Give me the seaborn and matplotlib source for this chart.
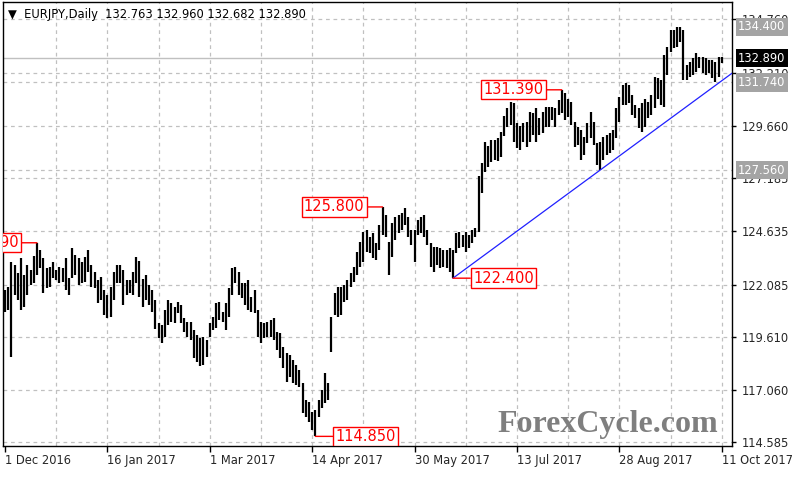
import numpy as np
import pandas as pd
import matplotlib
matplotlib.use("Agg")
import matplotlib.pyplot as plt
import matplotlib.transforms as mtransforms
import seaborn as sns

# --- data (one bar per business day) ---
dates = pd.bdate_range("2016-12-01", "2017-10-11")

highs = [
    121.84, 122.00, 123.19, 123.03, 122.63, 123.35, 122.55, 123.03, 122.79, 123.48,
    124.09, 123.75, 123.35, 122.87, 122.95, 123.19, 122.79, 122.95, 122.87, 123.35,
    122.40, 123.83, 123.51, 123.35, 123.19, 123.43, 123.75, 123.03, 122.71, 122.32,
    122.47, 121.84, 121.60, 122.00, 122.71, 123.03, 123.03, 122.79, 122.31, 122.31,
    122.69, 123.41, 123.22, 122.36, 122.55, 122.07, 121.84, 121.36, 120.26, 120.17,
    120.88, 121.36, 121.22, 121.03, 121.26, 121.12, 120.50, 120.31, 120.31, 119.93,
    119.69, 119.55, 119.59, 119.45, 120.26, 120.55, 121.22, 121.26, 120.79, 121.22,
    121.93, 122.89, 122.93, 122.69, 122.17, 122.17, 122.31, 121.50, 121.84, 120.88,
    120.31, 120.26, 120.31, 120.40, 120.50, 119.83, 119.78, 119.12, 118.83, 118.73,
    118.49, 118.26, 118.02, 117.40, 116.59, 116.49, 116.01, 116.11, 116.59, 117.06,
    117.88, 117.40, 120.55, 121.69, 121.98, 121.98, 122.07, 122.31, 122.65, 122.93,
    123.65, 124.12, 124.60, 124.70, 124.36, 124.55, 124.08, 124.94, 125.80, 125.41,
    124.12, 125.03, 125.32, 125.41, 125.51, 125.75, 125.32, 124.70, 124.70, 125.17,
    125.32, 125.41, 124.70, 124.08, 123.89, 123.89, 123.84, 123.74, 123.74, 123.84,
    123.74, 124.55, 124.60, 124.46, 124.60, 124.46, 124.70, 124.79, 127.30, 127.89,
    128.90, 128.70, 128.99, 128.99, 129.09, 129.37, 130.14, 130.52, 130.80, 130.76,
    129.80, 129.66, 129.80, 129.85, 130.33, 130.28, 130.52, 130.04, 130.33, 130.57,
    130.57, 130.57, 130.52, 130.90, 131.39, 131.23, 130.95, 130.80, 129.85, 129.61,
    129.47, 129.14, 129.80, 130.33, 129.85, 128.85, 128.90, 129.14, 129.23, 129.33,
    129.47, 130.52, 131.04, 131.63, 131.71, 131.63, 131.14, 130.66, 130.52, 130.76,
    130.95, 130.80, 131.14, 132.00, 131.95, 131.85, 133.05, 133.43, 134.24, 134.24,
    134.40, 134.38, 134.24, 132.57, 132.71, 132.90, 133.14, 132.95, 132.95, 132.90,
    132.81, 132.81, 132.71, 132.95, 132.96,
]

lows = [
    120.80, 120.88, 118.66, 121.60, 121.36, 120.88, 121.04, 121.60, 122.08, 122.16,
    122.55, 122.87, 121.68, 121.92, 122.00, 122.40, 122.32, 122.16, 122.24, 121.84,
    121.60, 122.40, 122.55, 122.08, 122.16, 122.24, 122.71, 122.00, 121.92, 121.20,
    121.36, 120.65, 120.49, 120.57, 121.36, 122.16, 122.16, 121.12, 121.60, 121.69,
    121.60, 122.17, 121.50, 121.03, 121.36, 121.12, 120.79, 119.97, 119.55, 119.31,
    119.59, 120.17, 120.31, 120.26, 120.74, 120.26, 119.83, 119.59, 119.45, 118.59,
    118.40, 118.21, 118.26, 118.64, 119.59, 119.93, 120.02, 120.40, 120.31, 119.93,
    120.55, 121.60, 122.17, 121.60, 121.45, 121.12, 120.88, 120.79, 120.74, 119.59,
    119.31, 119.55, 119.59, 119.59, 119.45, 118.97, 118.59, 118.11, 117.45, 117.68,
    117.40, 117.30, 117.21, 115.97, 115.78, 115.54, 115.17, 114.85, 115.78, 116.21,
    116.44, 116.59, 118.88, 120.64, 120.55, 120.64, 121.26, 121.36, 121.98, 122.22,
    122.55, 122.93, 123.17, 123.65, 123.60, 123.36, 123.27, 123.74, 124.46, 124.36,
    122.55, 123.41, 124.22, 124.55, 124.70, 124.94, 124.36, 123.98, 123.17, 124.46,
    124.55, 124.36, 123.98, 122.93, 122.69, 123.03, 122.89, 122.93, 122.89, 122.69,
    122.40, 123.60, 123.84, 123.89, 123.65, 123.84, 124.08, 124.36, 124.60, 126.46,
    127.46, 127.70, 127.94, 128.04, 128.00, 128.18, 129.18, 129.61, 129.71, 128.90,
    128.61, 128.51, 128.90, 128.66, 128.90, 129.23, 128.90, 129.23, 129.33, 129.61,
    129.61, 129.95, 129.61, 130.19, 130.28, 129.95, 130.09, 129.71, 128.66, 128.75,
    128.04, 128.28, 128.85, 129.09, 128.75, 127.80, 127.56, 128.04, 128.28, 128.37,
    128.51, 129.09, 129.85, 130.66, 130.66, 130.76, 130.19, 130.04, 129.56, 129.37,
    129.61, 130.04, 130.19, 130.52, 130.95, 130.66, 130.57, 132.09, 133.19, 133.38,
    133.43, 133.67, 131.85, 131.85, 132.00, 132.09, 132.24, 132.43, 132.19, 132.09,
    132.19, 131.95, 131.74, 132.00, 132.68,
]

last_ohlc = [132.763, 132.960, 132.682, 132.890]
price_ticks = [114.585, 117.060, 119.610, 122.085, 124.635, 127.185, 129.660, 132.210, 134.760]

# swing points marked with red boxes
mark_idx = [10, 118, 174, 140, 97]
mark_price = [124.09, 125.80, 131.39, 122.40, 114.85]
mark_side = ["left", "left", "left", "right", "right"]

# trend line through the two lows
trend_idx = [140, 186]
trend_price = [122.40, 127.56]

level_prices = [134.40, 131.74, 127.56]
current_price = 132.89

sns.set_theme(style="white")
plt.rcParams["font.family"] = ["DejaVu Sans"]

fig = plt.figure(figsize=(8, 4.8), dpi=100)
ax = fig.add_axes([0.00375, 0.0708, 0.91125, 0.925])

XMIN, XMAX = -0.6, 227.2
ax.set_xlim(XMIN, XMAX)
ax.set_ylim(114.39, 135.58)

grid_kw = dict(color="#c0c0c0", lw=0.9, ls=(0, (3, 3)), zorder=1)
for v in price_ticks:
    ax.axhline(v, **grid_kw)
for i in range(16, len(dates), 16):
    ax.axvline(i, **grid_kw)
for v in level_prices[1:]:
    ax.axhline(v, **grid_kw)
ax.axhline(current_price, color="#c0c0c0", lw=1.0, zorder=1)

# OHLC bars (high-low)
bars = pd.DataFrame({"idx": np.arange(len(highs)), "high": highs, "low": lows})
ax.vlines(bars["idx"], bars["low"], bars["high"], color="black", lw=1.6, zorder=3)

# trend line extended to the right edge
slope = (trend_price[1] - trend_price[0]) / (trend_idx[1] - trend_idx[0])
trend = pd.DataFrame({"x": [trend_idx[0], XMAX],
                      "y": [trend_price[0], trend_price[0] + slope * (XMAX - trend_idx[0])]})
sns.lineplot(data=trend, x="x", y="y", color="#2020ff", lw=0.9, ax=ax, zorder=4)
ax.set_xlabel("")
ax.set_ylabel("")

# x axis: date labels every 32 bars, left aligned at the tick
xt = list(range(0, len(dates), 32))
ax.set_xticks(xt)
ax.set_xticklabels([f"{dates[i].day} {dates[i].strftime('%b %Y')}" for i in xt], ha="left")
ax.tick_params(axis="x", length=4, width=1, color="black", pad=2, labelsize=8.3, bottom=True)

ax.yaxis.tick_right()
ax.set_yticks(price_ticks)
ax.set_yticklabels([f"{v:.3f}" for v in price_ticks])
ax.tick_params(axis="y", length=3, width=1, color="black", pad=4, labelsize=8.3, right=True)

for s in ax.spines.values():
    s.set_color("black")
    s.set_linewidth(1.0)
    s.set_visible(True)

# price boxes on the right axis
trans = mtransforms.blended_transform_factory(ax.transAxes, ax.transData)
for v in level_prices:
    ax.text(1.0085, v, f"{v:.3f}", transform=trans, ha="left", va="center", fontsize=8.3,
            color="white", bbox=dict(boxstyle="square,pad=0.22", fc="#a4a4a4", ec="none"),
            zorder=10, clip_on=False)
ax.text(1.0085, current_price, f"{current_price:.3f}", transform=trans, ha="left", va="center",
        fontsize=8.3, color="white", bbox=dict(boxstyle="square,pad=0.22", fc="black", ec="none"),
        zorder=11, clip_on=False)

# red swing labels
for i, p, side in zip(mark_idx, mark_price, mark_side):
    dx = -18 if side == "left" else 20
    ann = ax.annotate(f"{p:.3f}", xy=(i, p), xytext=(dx, 0), textcoords="offset pixels",
                      ha="right" if side == "left" else "left", va="center",
                      fontsize=10.5, color="red",
                      bbox=dict(boxstyle="square,pad=0.15", fc="white", ec="red", lw=1),
                      arrowprops=dict(arrowstyle="-", color="red", lw=1, shrinkA=0, shrinkB=0),
                      zorder=6)
    ann.set_clip_path(ax.patch)

# header and watermark
ax.text(0.007, 0.971, "\u25bc  EURJPY,Daily  " + " ".join(f"{v:.3f}" for v in last_ohlc),
        transform=ax.transAxes, ha="left", va="center", fontsize=8.3, color="black", zorder=8)
ax.text(0.678, 0.032, "ForexCycle.com", transform=ax.transAxes, ha="left", va="baseline",
        fontsize=23, fontweight="bold", family=["Liberation Serif", "DejaVu Serif"],
        color="#7f7f7f", zorder=2)

fig.savefig("out.png", dpi=100, facecolor="white")
